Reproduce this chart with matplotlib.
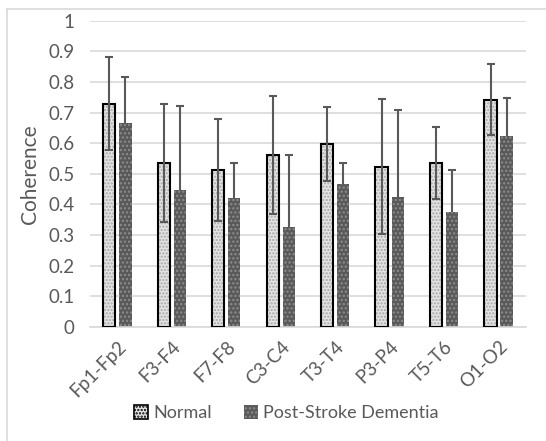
import matplotlib
matplotlib.use("Agg")
import matplotlib.pyplot as plt
import numpy as np
from matplotlib.patches import Patch
from matplotlib.lines import Line2D

categories = ["Fp1-Fp2", "F3-F4", "F7-F8", "C3-C4", "T3-T4", "P3-P4", "T5-T6", "O1-O2"]
normal_mean = [0.729, 0.535, 0.512, 0.562, 0.596, 0.523, 0.535, 0.742]
normal_err = [0.152, 0.192, 0.167, 0.193, 0.121, 0.221, 0.119, 0.117]
psd_mean = [0.665, 0.447, 0.422, 0.326, 0.465, 0.425, 0.376, 0.623]
psd_err = [0.152, 0.275, 0.112, 0.234, 0.071, 0.284, 0.137, 0.125]
yticks = [0, 0.1, 0.2, 0.3, 0.4, 0.5, 0.6, 0.7, 0.8, 0.9, 1]
ytick_labels = ["0", "0.1", "0.2", "0.3", "0.4", "0.5", "0.6", "0.7", "0.8", "0.9", "1"]

plt.rcParams['font.family'] = ['Lato', 'DejaVu Sans']
plt.rcParams['hatch.linewidth'] = 1.1
txt = '#595959'

fig = plt.figure(figsize=(5.46, 4.41), dpi=100)
ax = fig.add_axes([0.165, 0.259, 0.798, 0.694])

x = np.arange(len(categories))
w = 0.225
off = 0.148

ax.bar(x - off, normal_mean, w, color='#e4e4e4', edgecolor='#a8a8a8', hatch='.....', linewidth=0, zorder=2)
ax.bar(x - off, normal_mean, w, fill=False, edgecolor='black', linewidth=1.5, zorder=3)
ax.bar(x + off, psd_mean, w, color='#595959', edgecolor='#8c8c8c', hatch='....', linewidth=0, zorder=2)

ax.errorbar(x - off, normal_mean, yerr=normal_err, fmt='none', ecolor='#595959', elinewidth=1.5,
            capsize=3.2, capthick=1.5, zorder=4)
ax.errorbar(x + off, psd_mean, yerr=psd_err, fmt='none', ecolor='#595959', elinewidth=1.5,
            capsize=3.2, capthick=1.5, zorder=1.5)

ax.set_ylim(0, 1)
ax.set_xlim(-0.5, len(categories) - 0.5)
ax.set_yticks(yticks)
ax.set_yticklabels(ytick_labels)
ax.yaxis.grid(True, color='#d9d9d9', linewidth=1.2, zorder=0)
ax.set_axisbelow(True)
for s in ['top', 'right', 'left']:
    ax.spines[s].set_visible(False)
ax.spines['bottom'].set_color('#d9d9d9')
ax.spines['bottom'].set_linewidth(1.2)
ax.tick_params(axis='both', length=0, labelcolor=txt, labelsize=13.5)
ax.tick_params(axis='y', pad=11)
ax.set_xticks(x)
ax.set_xticklabels(categories, rotation=45, ha='right', va='top', rotation_mode='anchor')
ax.tick_params(axis='x', pad=8)
ax.set_ylabel('Coherence', color=txt, fontsize=15, labelpad=6)

handles = [Patch(facecolor='#e4e4e4', edgecolor='black', hatch='.....', linewidth=1.2),
           Patch(facecolor='#595959', edgecolor='#8c8c8c', hatch='....', linewidth=0)]
leg = fig.legend(handles, ['Normal', 'Post-Stroke Dementia'], loc='center', bbox_to_anchor=(0.525, 0.063),
                 ncol=2, frameon=False, fontsize=13, handlelength=0.75, handleheight=0.75,
                 handletextpad=0.3, columnspacing=1.8)
for t in leg.get_texts():
    t.set_color(txt)

fig.add_artist(Line2D([7/546, 7/546], [0, 1 - 9/441], color='#d9d9d9', lw=1.2, transform=fig.transFigure))
fig.add_artist(Line2D([7/546, 1], [1 - 9/441, 1 - 9/441], color='#d9d9d9', lw=1.2, transform=fig.transFigure))

fig.savefig('out.png', dpi=100)
